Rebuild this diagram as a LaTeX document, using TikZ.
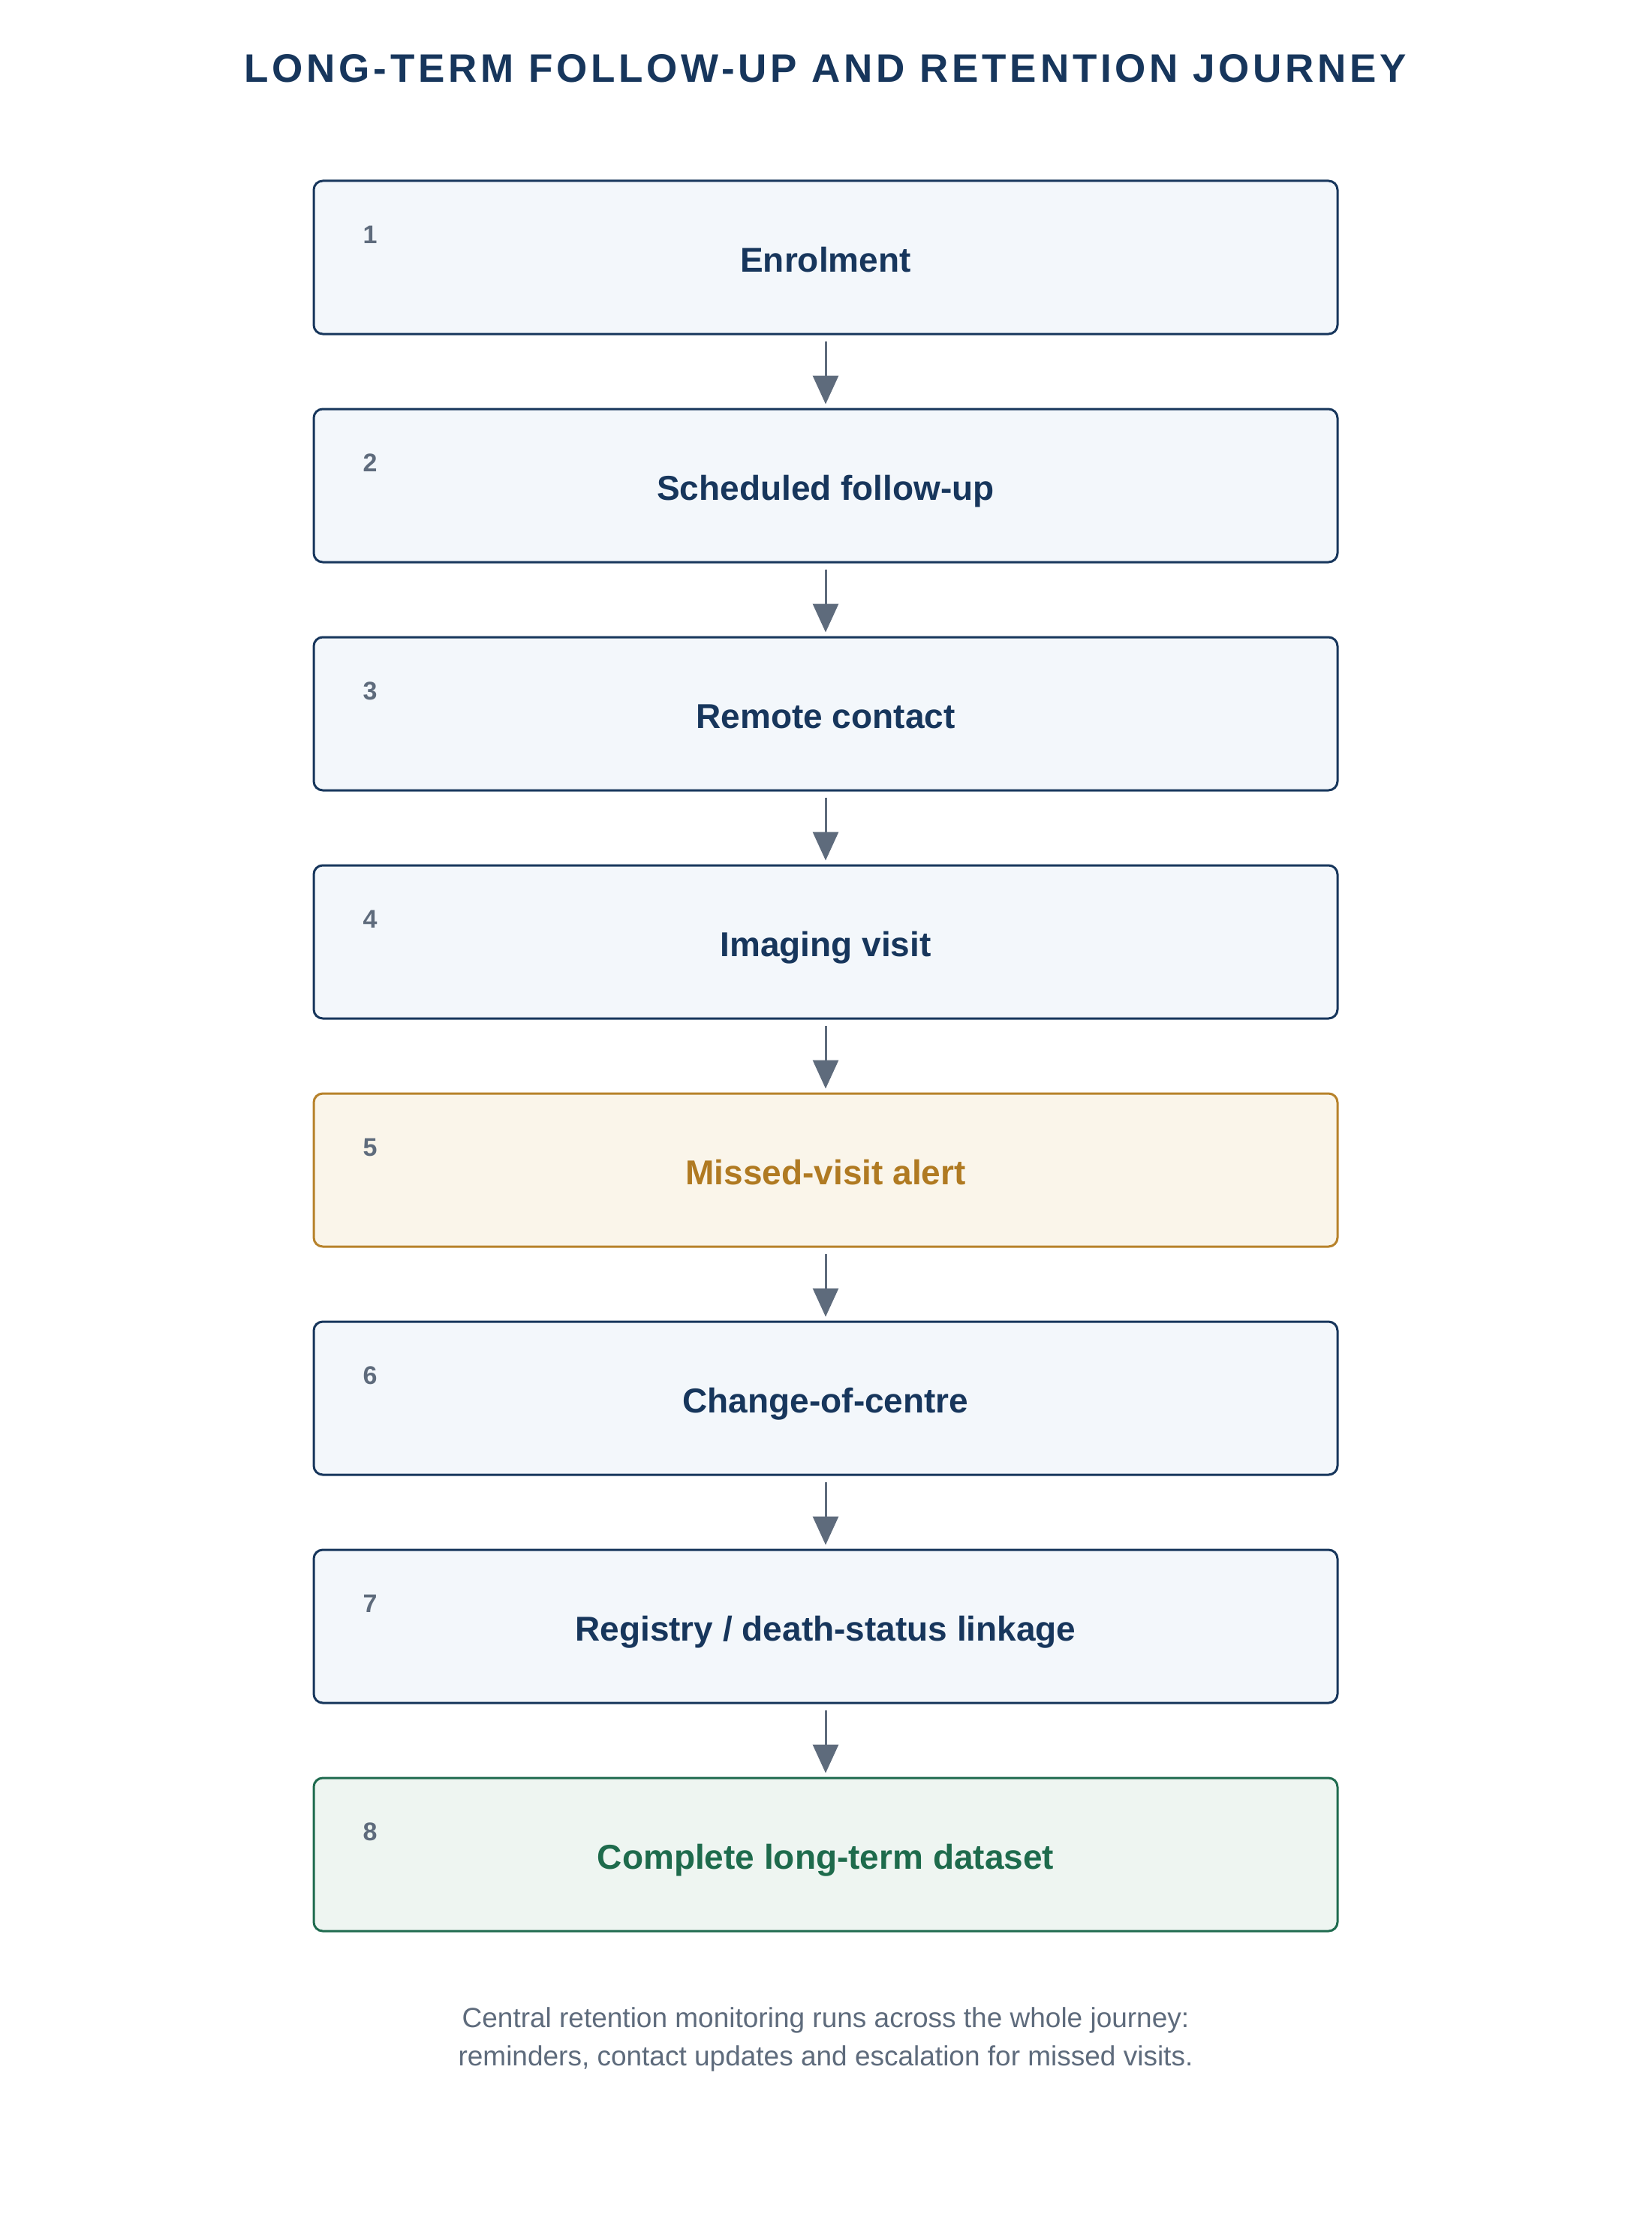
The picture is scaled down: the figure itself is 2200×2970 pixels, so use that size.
\documentclass[tikz,border=0pt]{standalone}
\usepackage{fontspec}
\setmainfont{Liberation Sans}
\newfontfamily\titlefont{Liberation Sans}[LetterSpace=9]
\usetikzlibrary{arrows.meta}
\definecolor{navy}{HTML}{17365C}
\definecolor{boxfill}{HTML}{F3F7FB}
\definecolor{numgray}{HTML}{5E6B7C}
\definecolor{arrowgray}{HTML}{5E6B7C}
\definecolor{amberline}{HTML}{B7822B}
\definecolor{amberfill}{HTML}{FAF5EA}
\definecolor{ambertext}{HTML}{B07A22}
\definecolor{greenline}{HTML}{1F6B4F}
\definecolor{greenfill}{HTML}{EEF5F1}
\definecolor{greentext}{HTML}{1E6B4C}
\tikzset{
  stepbox/.style={draw=navy, fill=boxfill, line width=1.5pt, rounded corners=6pt,
    minimum width=682pt, minimum height=102pt, inner sep=0pt},
  alertbox/.style={stepbox, draw=amberline, fill=amberfill},
  donebox/.style={stepbox, draw=greenline, fill=greenfill},
  steplabel/.style={font=\fontsize{23}{27}\selectfont\bfseries, text=navy,
    text height=0.716em, text depth=0pt, inner sep=0pt, anchor=center},
  stepnum/.style={font=\fontsize{17}{20}\selectfont\bfseries, text=numgray,
    inner sep=0pt, anchor=center},
  flow/.style={draw=arrowgray, line width=1.5pt,
    -{Triangle[length=19pt,width=17pt]}, shorten <=4pt, shorten >=2.5pt}
}
\begin{document}
\begin{tikzpicture}[x=0.5pt,y=-0.5pt]
\useasboundingbox[fill=white] (0,0) rectangle (2200,2970);
\node[font=\titlefont\fontsize{26.5}{30}\selectfont\bfseries, text=navy, anchor=center] (title) at (1100,91) {LONG-TERM FOLLOW-UP AND RETENTION JOURNEY};
\foreach \i/\lab/\sty/\col in {
  1/{Enrolment}/stepbox/navy,
  2/{Scheduled follow-up}/stepbox/navy,
  3/{Remote contact}/stepbox/navy,
  4/{Imaging visit}/stepbox/navy,
  5/{Missed-visit alert}/alertbox/ambertext,
  6/{Change-of-centre}/stepbox/navy,
  7/{Registry / death-status linkage}/stepbox/navy,
  8/{Complete long-term dataset}/donebox/greentext}{
  \pgfmathsetmacro{\yc}{343+(\i-1)*304}
  \node[\sty] (b\i) at (1100,\yc) {};
  \node[steplabel, text=\col] (l\i) at (1100,\yc+12) {\lab};
  \node[stepnum] (n\i) at (493,\yc-30) {\i};
}
\foreach \a/\b in {1/2,2/3,3/4,4/5,5/6,6/7,7/8}{
  \draw[flow] (b\a.south) -- (b\b.north);
}
\node[font=\fontsize{18.5}{25.5}\selectfont, text=numgray, align=center, anchor=center] (foot) at (1100,2717)
  {Central retention monitoring runs across the whole journey:\\reminders, contact updates and escalation for missed visits.};
\end{tikzpicture}
\end{document}
